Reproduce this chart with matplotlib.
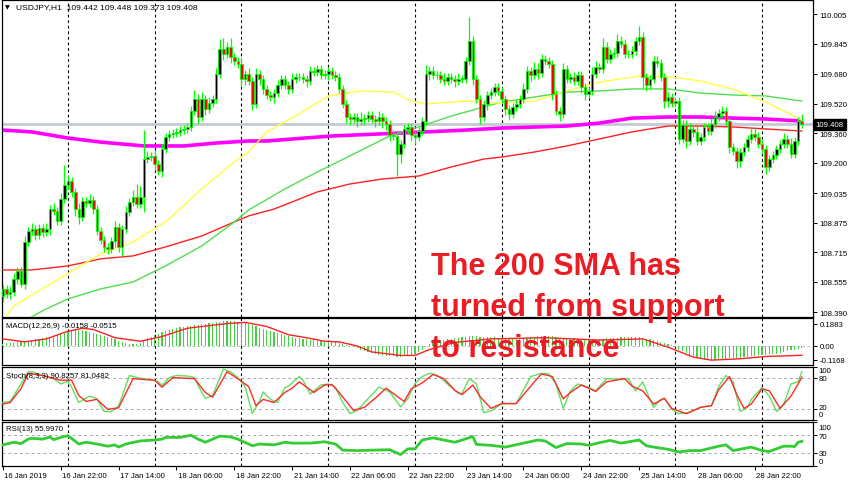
import matplotlib
matplotlib.use('Agg')
import matplotlib.pyplot as plt
import matplotlib.transforms as mtransforms
import numpy as np

plt.rcParams['font.family'] = ['Liberation Sans', 'DejaVu Sans']

# ---------------- data ----------------
first_open = 108.477
closes = [
    108.515, 108.488, 108.499, 108.570, 108.613, 108.543, 108.770, 108.829, 108.840, 108.808,
    108.846, 108.824, 108.840, 108.949, 108.938, 108.883, 109.003, 109.078, 109.100, 109.041,
    108.949, 108.905, 108.992, 108.981, 108.997, 108.949, 108.829, 108.781, 108.743, 108.732,
    108.775, 108.851, 108.743, 108.840, 108.932, 108.986, 109.013, 108.976, 109.013, 109.219,
    109.230, 109.236, 109.192, 109.154, 109.273, 109.338, 109.355, 109.360, 109.366, 109.376,
    109.382, 109.393, 109.479, 109.544, 109.447, 109.544, 109.490, 109.523, 109.544, 109.680,
    109.815, 109.788, 109.826, 109.772, 109.750, 109.734, 109.653, 109.680, 109.642, 109.517,
    109.680, 109.653, 109.599, 109.566, 109.555, 109.577, 109.620, 109.653, 109.620, 109.599,
    109.653, 109.663, 109.663, 109.653, 109.642, 109.696, 109.691, 109.707, 109.674, 109.680,
    109.696, 109.674, 109.663, 109.599, 109.517, 109.447, 109.436, 109.447, 109.425, 109.436,
    109.441, 109.458, 109.436, 109.425, 109.447, 109.425, 109.409, 109.349, 109.344, 109.246,
    109.301, 109.382, 109.393, 109.349, 109.338, 109.371, 109.425, 109.680, 109.696, 109.674,
    109.674, 109.653, 109.642, 109.663, 109.653, 109.642, 109.653, 109.653, 109.750, 109.858,
    109.653, 109.544, 109.447, 109.517, 109.566, 109.582, 109.609, 109.588, 109.544, 109.490,
    109.463, 109.501, 109.517, 109.544, 109.599, 109.696, 109.674, 109.707, 109.685, 109.761,
    109.750, 109.734, 109.571, 109.479, 109.463, 109.707, 109.653, 109.663, 109.642, 109.674,
    109.609, 109.571, 109.588, 109.680, 109.718, 109.707, 109.826, 109.761, 109.788, 109.793,
    109.858, 109.842, 109.788, 109.788, 109.804, 109.858, 109.880, 109.663, 109.620, 109.653,
    109.750, 109.739, 109.663, 109.533, 109.555, 109.523, 109.533, 109.328, 109.403, 109.317,
    109.382, 109.366, 109.317, 109.338, 109.393, 109.371, 109.409, 109.447, 109.468, 109.479,
    109.425, 109.284, 109.263, 109.208, 109.257, 109.284, 109.328, 109.355, 109.338, 109.301,
    109.273, 109.176, 109.219, 109.241, 109.273, 109.301, 109.328, 109.301, 109.246, 109.317,
    109.425, 109.408]

upper_wick = [
    .02, .02, .03, .03, .02, .02, .03, .02, .03, .02,
    .02, .02, .03, .02, .03, .02, .03, .11, .03, .02,
    .02, .03, .02, .02, .03, .02, .02, .02, .02, .02,
    .02, .03, .02, .02, .03, .02, .04, .07, .06, .16,
    .03, .02, .03, .02, .03, .02, .02, .02, .02, .02,
    .02, .02, .03, .05, .03, .04, .02, .03, .02, .03,
    .055, .06, .03, .05, .02, .02, .03, .02, .03, .02,
    .03, .02, .02, .02, .02, .02, .03, .02, .02, .02,
    .03, .02, .02, .02, .02, .03, .02, .02, .02, .02,
    .02, .02, .02, .02, .02, .02, .02, .02, .02, .04,
    .02, .02, .02, .02, .03, .02, .02, .02, .03, .02,
    .02, .02, .02, .02, .02, .02, .02, .05, .03, .03,
    .02, .02, .03, .02, .02, .02, .03, .02, .02, .13,
    .03, .02, .02, .02, .02, .02, .02, .02, .02, .02,
    .02, .02, .02, .02, .03, .03, .02, .04, .03, .03,
    .02, .02, .02, .02, .02, .03, .02, .02, .03, .02,
    .02, .02, .02, .04, .03, .02, .05, .03, .03, .03,
    .04, .03, .03, .02, .03, .02, .06, .03, .02, .02,
    .03, .03, .02, .02, .03, .02, .02, .02, .03, .03,
    .03, .02, .03, .02, .02, .02, .03, .03, .02, .03,
    .02, .02, .02, .02, .02, .02, .02, .03, .03, .03,
    .02, .02, .02, .02, .02, .02, .03, .02, .03, .02,
    .02, .04]

lower_wick = [
    .03, .02, .03, .02, .03, .02, .03, .02, .02, .03,
    .02, .03, .02, .03, .02, .02, .02, .02, .02, .03,
    .04, .04, .02, .02, .02, .03, .02, .02, .03, .03,
    .02, .03, .03, .05, .02, .02, .02, .02, .02, .08,
    .02, .02, .03, .02, .03, .02, .02, .02, .02, .02,
    .02, .02, .02, .02, .04, .02, .03, .02, .02, .02,
    .02, .03, .02, .03, .02, .02, .04, .03, .02, .03,
    .02, .03, .03, .02, .02, .03, .02, .02, .02, .03,
    .02, .02, .02, .02, .03, .02, .02, .02, .02, .02,
    .03, .02, .02, .02, .02, .03, .03, .02, .03, .02,
    .03, .02, .02, .03, .02, .04, .03, .03, .02, .12,
    .05, .02, .02, .03, .04, .02, .02, .02, .03, .02,
    .02, .02, .02, .02, .02, .03, .02, .02, .02, .02,
    .03, .02, .04, .02, .03, .02, .02, .02, .02, .03,
    .03, .02, .02, .02, .02, .02, .03, .02, .03, .02,
    .02, .02, .03, .02, .04, .02, .02, .02, .02, .02,
    .03, .03, .02, .02, .02, .02, .02, .02, .02, .02,
    .02, .02, .02, .02, .02, .02, .02, .06, .03, .02,
    .02, .02, .02, .04, .03, .02, .02, .03, .02, .04,
    .02, .03, .02, .02, .02, .02, .02, .02, .02, .02,
    .02, .03, .02, .04, .03, .02, .02, .02, .02, .02,
    .02, .04, .02, .02, .02, .02, .02, .02, .02, .02,
    .02, .02]

# moving averages (bar index, price)
yellow_x = [0, 3, 27, 36, 45, 55, 64, 68, 73, 82, 90, 99, 108, 113, 117, 128, 137, 147, 156, 165, 176, 185, 193, 202, 211, 221]
yellow_y = [108.34, 108.423, 108.705, 108.770, 108.878, 109.057, 109.203, 109.257, 109.366, 109.465, 109.561, 109.588,
            109.582, 109.533, 109.517, 109.533, 109.523, 109.533, 109.588, 109.636, 109.669, 109.663, 109.642,
            109.598, 109.528, 109.43]
green_x = [0, 12, 18, 27, 36, 45, 55, 64, 68, 78, 87, 96, 107, 115, 124, 133, 138, 147, 156, 165, 174, 184, 193, 202, 211, 221]
green_y = [108.28, 108.407, 108.461, 108.515, 108.553, 108.640, 108.748, 108.878, 108.943, 109.057, 109.149, 109.236,
           109.344, 109.393, 109.452, 109.501, 109.528, 109.555, 109.582, 109.588, 109.599, 109.599, 109.577,
           109.566, 109.561, 109.533]
red_x = [0, 8, 18, 27, 36, 45, 55, 64, 68, 75, 87, 96, 105, 115, 124, 133, 138, 147, 156, 165, 174, 184, 193, 202, 211, 221]
red_y = [108.618, 108.618, 108.640, 108.678, 108.694, 108.743, 108.802, 108.878, 108.911, 108.948, 109.041, 109.084,
         109.111, 109.127, 109.176, 109.219, 109.230, 109.257, 109.290, 109.328, 109.366, 109.398, 109.398,
         109.393, 109.382, 109.371]
sma200_x = [0, 8, 18, 27, 39, 50, 59, 68, 73, 91, 110, 128, 138, 156, 165, 174, 184, 193, 202, 211, 221]
sma200_y = [109.376, 109.366, 109.333, 109.311, 109.290, 109.290, 109.306, 109.317, 109.317, 109.344, 109.360,
            109.376, 109.387, 109.398, 109.414, 109.441, 109.447, 109.447, 109.441, 109.436, 109.425]
last_price = 109.408

price_ticks = [110.005, 109.845, 109.680, 109.520, 109.360, 109.200, 109.035, 108.875, 108.715, 108.555, 108.390]

macd_hist = [
    0.020, 0.022, 0.025, 0.028, 0.032, 0.036, 0.042, 0.046, 0.050, 0.055,
    0.060, 0.066, 0.072, 0.080, 0.088, 0.095, 0.102, 0.110, 0.118, 0.125,
    0.132, 0.138, 0.136, 0.130, 0.122, 0.114, 0.105, 0.095, 0.086, 0.076,
    0.066, 0.056, 0.046, 0.036, 0.026, 0.020, 0.016, 0.018, 0.028, 0.048,
    0.065, 0.080, 0.092, 0.102, 0.115, 0.128, 0.138, 0.146, 0.152, 0.158,
    0.163, 0.168, 0.172, 0.176, 0.180, 0.184, 0.188, 0.192, 0.196, 0.200,
    0.204, 0.208, 0.210, 0.211, 0.210, 0.206, 0.200, 0.192, 0.184, 0.175,
    0.166, 0.156, 0.146, 0.138, 0.130, 0.122, 0.112, 0.102, 0.094, 0.086,
    0.075, 0.070, 0.066, 0.062, 0.058, 0.054, 0.050, 0.046, 0.042, 0.040,
    0.038, 0.036, 0.032, 0.026, 0.018, 0.010, 0.002, -0.008, -0.020, -0.030,
    -0.040, -0.050, -0.060, -0.068, -0.074, -0.080, -0.084, -0.086, -0.088, -0.090,
    -0.090, -0.088, -0.082, -0.074, -0.064, -0.052, -0.036, -0.010, 0.014, 0.030,
    0.040, 0.048, 0.054, 0.058, 0.062, 0.066, 0.068, 0.072, 0.078, 0.086,
    0.088, 0.084, 0.078, 0.076, 0.074, 0.073, 0.072, 0.070, 0.068, 0.064,
    0.060, 0.058, 0.058, 0.060, 0.064, 0.070, 0.074, 0.078, 0.082, 0.086,
    0.088, 0.088, 0.082, 0.074, 0.068, 0.070, 0.070, 0.068, 0.066, 0.064,
    0.060, 0.056, 0.054, 0.054, 0.056, 0.058, 0.062, 0.064, 0.066, 0.068,
    0.070, 0.072, 0.072, 0.072, 0.074, 0.076, 0.078, 0.070, 0.062, 0.056,
    0.052, 0.046, 0.038, 0.026, 0.016, 0.006, -0.010, -0.030, -0.046, -0.060,
    -0.075, -0.088, -0.100, -0.110, -0.116, -0.118, -0.118, -0.116, -0.112, -0.108,
    -0.106, -0.104, -0.102, -0.100, -0.098, -0.094, -0.090, -0.086, -0.082, -0.080,
    -0.078, -0.076, -0.072, -0.068, -0.064, -0.060, -0.054, -0.046, -0.038, -0.030,
    -0.022, -0.016]
macd_sig_x = [0, 6, 12, 18, 22, 25, 31, 38, 44, 51, 62, 67, 73, 79, 84, 89, 93, 98, 102, 110, 114, 118,
              125, 135, 150, 165, 177, 184, 191, 196, 204, 211, 220, 221]
macd_sig_y = [0.06, 0.035, 0.06, 0.125, 0.15, 0.14, 0.07, 0.04, 0.08, 0.15, 0.19, 0.2, 0.165, 0.095, 0.07, 0.04,
              0.035, 0.0, -0.05, -0.08, -0.08, -0.03, 0.03, 0.06, 0.07, 0.05, 0.06, -0.01, -0.094, -0.12,
              -0.108, -0.089, -0.08, -0.078]

stoch_k_x = [0, 2, 5, 7, 8, 11, 14, 16, 18, 19, 21, 24, 26, 28, 30, 32, 35, 37, 41, 43, 44, 46, 48, 51, 53, 54,
             56, 58, 61, 63, 65, 67, 69, 71, 72, 74, 76, 78, 79, 82, 83, 85, 88, 90, 92, 94, 96, 98, 101, 104,
             107, 110, 112, 114, 116, 118, 120, 123, 126, 127, 129, 131, 133, 135, 138, 142, 146, 149, 151,
             153, 155, 157, 159, 162, 164, 167, 170, 173, 175, 177, 178, 180, 182, 183, 185, 187, 190, 193,
             196, 198, 200, 202, 204, 206, 207, 210, 212, 214, 216, 218, 220, 221]
stoch_k_y = [33, 35, 68, 91, 91, 84, 78, 68, 73, 62, 33, 45, 40, 16, 16, 26, 84, 80, 76, 72, 65, 80, 84, 83, 80, 65,
             41, 46, 96, 91, 80, 63, 12, 36, 53, 39, 33, 61, 64, 82, 75, 49, 66, 68, 62, 33, 12, 18, 40, 62,
             53, 25, 40, 69, 82, 88, 85, 68, 50, 50, 78, 68, 14, 17, 31, 31, 82, 88, 87,
             68, 22, 55, 68, 62, 55, 78, 77, 78, 55, 72, 55, 24, 39, 41, 20, 12, 14, 24,
             27, 63, 84, 72, 16, 24, 39, 61, 45, 16, 30, 68, 72, 91]
stoch_d_x = [0, 2, 5, 7, 11, 16, 19, 21, 23, 26, 29, 32, 36, 42, 44, 47, 53, 56, 58, 62, 65, 68, 70, 72, 75, 78,
             80, 82, 86, 89, 91, 93, 97, 100, 103, 106, 109, 111, 113, 116, 119, 122, 125, 127, 130, 132, 135,
             138, 142, 147, 149, 152, 155, 157, 160, 164, 167, 172, 174, 177, 180, 183, 185, 189, 193, 196,
             198, 201, 203, 205, 207, 210, 212, 215, 218, 220, 221]
stoch_d_y = [30, 33, 59, 88, 84, 75, 75, 46, 35, 39, 20, 23, 78, 75, 62, 80, 78, 52, 43, 91, 78, 63, 27, 39, 33, 52,
             60, 72, 52, 66, 67, 52, 18, 24, 41, 60, 45, 35, 59, 70, 86, 78, 56, 48, 66, 44, 22,
             31, 31, 72, 87, 82, 40, 52, 66, 54, 72, 78, 64, 55, 30, 41, 22, 12, 24, 27,
             57, 82, 48, 22, 30, 59, 55, 22, 45, 68, 81]

rsi_x = [0, 3, 5, 7, 8, 11, 13, 14, 16, 18, 21, 23, 26, 29, 31, 32, 34, 38, 42, 44, 45, 49, 52, 54, 56, 60, 63,
         65, 69, 71, 75, 78, 80, 85, 89, 92, 94, 98, 102, 107, 110, 112, 114, 116, 119, 122, 125, 127, 130,
         131, 135, 139, 144, 148, 150, 153, 156, 160, 162, 165, 168, 171, 176, 178, 180, 184, 187, 190, 193,
         198, 200, 202, 207, 210, 212, 216, 218, 219, 220, 221]
rsi_y = [48, 54, 51, 61, 63, 61, 66, 60, 65, 69, 50, 54, 50, 45, 48, 43, 50, 57, 59, 61, 65, 65, 70, 61, 54, 68, 66,
         61, 46, 50, 48, 54, 52, 52, 55, 50, 36, 35, 36, 37, 26, 39, 39, 59, 64, 59, 54, 59, 67,
         49, 47, 43, 52, 59, 57, 42, 51, 50, 47, 53, 58, 52, 59, 46, 43, 38, 32, 35, 35,
         45, 48, 35, 43, 35, 33, 45, 45, 44, 54, 56]

day_breaks = [18, 42, 66, 90, 114, 138, 162, 186, 210]
xtick_pos = [0, 16, 32, 48, 64, 80, 96, 112, 128, 144, 160, 176, 192, 208]
xtick_lab = ['16 Jan 2019', '16 Jan 22:00', '17 Jan 14:00', '18 Jan 06:00', '18 Jan 22:00', '21 Jan 14:00',
             '22 Jan 06:00', '22 Jan 22:00', '23 Jan 14:00', '24 Jan 06:00', '24 Jan 22:00', '25 Jan 14:00',
             '28 Jan 06:00', '28 Jan 22:00']
stoch_levels = [100, 80, 20, 0]
rsi_levels = [100, 70, 30, 0]

# ---------------- figure ----------------
W, H = 852, 485
fig = plt.figure(figsize=(W / 100, H / 100), dpi=100)
fig.patch.set_facecolor('white')


def px_axes(x0, y0, x1, y1):
    return fig.add_axes([x0 / W, 1 - y1 / H, (x1 - x0) / W, (y1 - y0) / H])


def ftext(x, y, s, **kw):
    return fig.text(x / W, 1 - y / H, s, **kw)


ax = px_axes(2, 1, 813, 318)
ax_macd = px_axes(2, 319, 813, 366)
ax_st = px_axes(2, 368, 813, 421)
ax_rsi = px_axes(2, 423, 813, 467)
axes = [ax, ax_macd, ax_st, ax_rsi]
FS = 5.6
for a in axes:
    a.set_xlim(-0.25, 224.1)
    a.set_facecolor('white')
    for s in a.spines.values():
        s.set_color('black')
        s.set_linewidth(0.9)
    a.yaxis.tick_right()
    a.tick_params(axis='y', direction='out', length=3, width=0.7, pad=1.5, labelsize=FS, colors='black')
    a.tick_params(axis='x', bottom=False, labelbottom=False)
    for d in day_breaks:
        a.axvline(d, color='black', lw=0.8, ls=(0, (2.5, 2.5)), zorder=1)

# main candles
c = np.array(closes)
o = np.array([first_open] + closes[:-1])
idx = np.arange(len(c))
hi = np.maximum(o, c) + np.array(upper_wick)
lo = np.minimum(o, c) - np.array(lower_wick)
bull = c >= o
ax.set_ylim(108.363, 110.081)
ax.axhline(last_price, color='#c4cad2', lw=2.0, zorder=2)
ax.plot(sma200_x, sma200_y, color='#ff00ff', lw=2.6, zorder=3, solid_capstyle='butt')
ax.plot(red_x, red_y, color='#ff2020', lw=1.0, zorder=3)
ax.plot(green_x, green_y, color='#4ee04e', lw=1.0, zorder=3)
ax.plot(yellow_x, yellow_y, color='#ffff40', lw=1.0, zorder=3)
ax.vlines(idx, lo, hi, color='#00ff00', lw=0.9, zorder=4)
bh = np.where(np.abs(c - o) < 0.003, 0.003, c - o)
ax.bar(idx[bull], bh[bull], bottom=o[bull], width=0.72, color='black', edgecolor='#00ff00', lw=0.6, zorder=5)
ax.bar(idx[~bull], bh[~bull], bottom=o[~bull], width=0.72, color='#ff0000', edgecolor='#00ff00', lw=0.6, zorder=5)
ax.set_yticks(price_ticks)
ax.set_yticklabels(['%.3f' % t for t in price_ticks])
trans = mtransforms.blended_transform_factory(ax.transAxes, ax.transData)
ax.text(1.0035, last_price, '%.3f' % last_price, transform=trans, color='white', fontsize=FS, va='center',
        ha='left', zorder=10, clip_on=False,
        bbox=dict(boxstyle='square,pad=0.25', fc='black', ec='black'))

# MACD
ax_macd.set_ylim(-0.161, 0.237)
ax_macd.bar(idx, macd_hist, width=0.32, color='#44d044', zorder=3)
ax_macd.plot(macd_sig_x, macd_sig_y, color='#ff2020', lw=1.0, zorder=4)
ax_macd.axhline(0, color='#b0b0b0', lw=0.6, ls=(0, (3, 3)), zorder=1)
ax_macd.set_yticks([0.1883, 0.0, -0.1168])
ax_macd.set_yticklabels(['0.1883', '0.00', '-0.1168'])

# Stochastic
ax_st.set_ylim(0, 100)
for lv in (80, 20):
    ax_st.axhline(lv, color='#a8a8a8', lw=0.7, ls=(0, (3, 3)), zorder=1)
ax_st.plot(stoch_k_x, stoch_k_y, color='#5ee05e', lw=1.0, zorder=3)
ax_st.plot(stoch_d_x, stoch_d_y, color='#ff2a2a', lw=1.0, zorder=4)
ax_st.set_yticks(stoch_levels)
ax_st.tick_params(axis='y', labelright=False)

# RSI
ax_rsi.set_ylim(0, 100)
for lv in (70, 30):
    ax_rsi.axhline(lv, color='#a8a8a8', lw=0.7, ls=(0, (3, 3)), zorder=1)
ax_rsi.plot(rsi_x, rsi_y, color='#33cc33', lw=2.0, zorder=3)
ax_rsi.set_yticks(rsi_levels)
ax_rsi.tick_params(axis='y', labelright=False)
ax_rsi.tick_params(axis='x', bottom=True, labelbottom=True, direction='out', length=3, width=0.7,
                   pad=1.5, labelsize=FS)
ax_rsi.set_xticks(xtick_pos)
ax_rsi.set_xticklabels(xtick_lab)
off = mtransforms.ScaledTranslation(1.5 / 100, 0, fig.dpi_scale_trans)
for lab in ax_rsi.get_xticklabels():
    lab.set_horizontalalignment('left')
    lab.set_transform(lab.get_transform() + off)

# right-side labels of the oscillator panels (placed like the terminal does, pulled inward)
for lv, yp in zip(stoch_levels, (371.5, 380, 409, 416)):
    ftext(818.5, yp, str(lv), fontsize=FS, va='center', ha='left')
for lv, yp in zip(rsi_levels, (429, 438, 455, 463)):
    ftext(818.5, yp, str(lv), fontsize=FS, va='center', ha='left')

# headers
ftext(5, 7.5, '\u25bc', fontsize=4.5, va='center', ha='left', family=['DejaVu Sans'])
ftext(16, 7.5, 'USDJPY,H1  109.442 109.448 109.373 109.408', fontsize=6.1, va='center', ha='left')
ftext(6, 326, 'MACD(12,26,9) -0.0158 -0.0515', fontsize=FS, va='center', ha='left')
ftext(6, 377, 'Stoch(8,3,3) 90.8257 81.0482', fontsize=FS, va='center', ha='left')
ftext(6, 430, 'RSI(13) 55.9970', fontsize=FS, va='center', ha='left')

# annotation
RED = '#ec1c24'
for s, yb in (('The 200 SMA has', 275), ('turned from support', 316), ('to resistance', 357)):
    ftext(431, yb, s, fontsize=22, fontweight='bold', color=RED, va='baseline', ha='left', zorder=20)

fig.savefig('out.png', dpi=100, facecolor='white')
